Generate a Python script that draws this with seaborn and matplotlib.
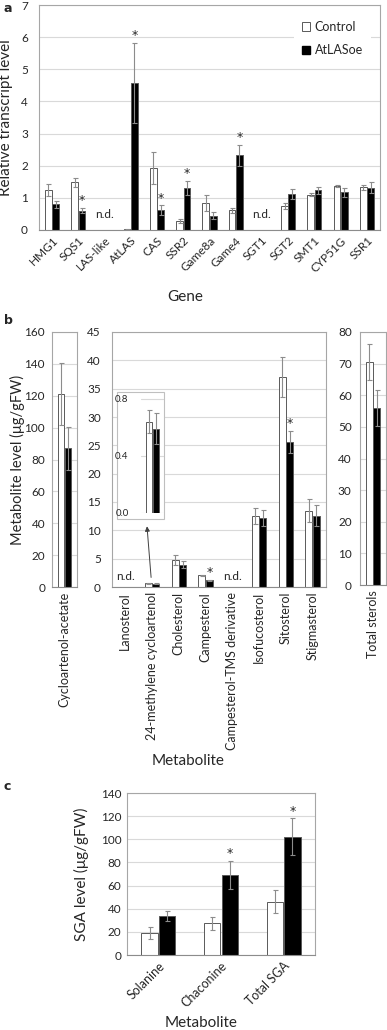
import numpy as np
import pandas as pd
import matplotlib
matplotlib.use("Agg")
import matplotlib.pyplot as plt
from matplotlib.patches import Patch, Rectangle
import seaborn as sns

sns.set_style("white")
plt.rcParams["font.family"] = ["Lato", "DejaVu Sans"]

TXT = "#262626"
GRID = "#d9d9d9"
SPINE = "#a6a6a6"
ERR = "#8c8c8c"

groups = ["Control", "AtLASoe"]

# panel a - transcript levels
genes = ["HMG1", "SQS1", "LAS-like", "AtLAS", "CAS", "SSR2", "Game8a",
         "Game4", "SGT1", "SGT2", "SMT1", "CYP51G", "SSR1"]
gene_ctrl = [1.25, 1.48, np.nan, 0.02, 1.93, 0.27, 0.85, 0.62, np.nan, 0.75, 1.10, 1.37, 1.33]
gene_ctrl_err = [0.18, 0.14, np.nan, 0.01, 0.49, 0.06, 0.25, 0.08, np.nan, 0.10, 0.05, 0.04, 0.07]
gene_oe = [0.80, 0.60, np.nan, 4.57, 0.62, 1.30, 0.45, 2.33, np.nan, 1.13, 1.23, 1.17, 1.32]
gene_oe_err = [0.10, 0.08, np.nan, 1.25, 0.15, 0.22, 0.10, 0.33, np.nan, 0.15, 0.11, 0.15, 0.18]
gene_sig = ["SQS1", "AtLAS", "CAS", "SSR2", "Game4"]
gene_nd = ["LAS-like", "SGT1"]

# panel b - sterols
acet = ["Cycloartenol-acetate"]
acet_ctrl, acet_ctrl_err = [121], [19.5]
acet_oe, acet_oe_err = [87], [13.5]

sterols = ["Lanosterol", "24-methylene cycloartenol", "Cholesterol", "Campesterol",
           "Campesterol-TMS derivative", "Isofucosterol", "Sitosterol", "Stigmasterol"]
sterol_ctrl = [np.nan, 0.64, 4.8, 2.05, np.nan, 12.5, 37.1, 13.5]
sterol_ctrl_err = [np.nan, 0.08, 0.85, 0.1, np.nan, 1.45, 3.5, 2.0]
sterol_oe = [np.nan, 0.59, 3.95, 1.2, np.nan, 12.2, 25.6, 12.6]
sterol_oe_err = [np.nan, 0.11, 0.65, 0.1, np.nan, 1.4, 1.9, 1.9]
sterol_sig = ["Campesterol", "Sitosterol"]
sterol_nd = ["Lanosterol", "Campesterol-TMS derivative"]

total = ["Total sterols"]
total_ctrl, total_ctrl_err = [70.5], [5.6]
total_oe, total_oe_err = [56], [5.8]

# panel c - SGA
sga = ["Solanine", "Chaconine", "Total SGA"]
sga_ctrl = [19, 27.5, 46]
sga_ctrl_err = [5.2, 5.5, 10]
sga_oe = [33.5, 69, 102]
sga_oe_err = [4.5, 12.3, 16]
sga_sig = ["Chaconine", "Total SGA"]


def long_df(cats, c, ce, o, oe):
    rows = [(k, "Control", v, e) for k, v, e in zip(cats, c, ce)]
    rows += [(k, "AtLASoe", v, e) for k, v, e in zip(cats, o, oe)]
    df = pd.DataFrame(rows, columns=["cat", "group", "value", "err"])
    return df.dropna(subset=["value"])


def bars(ax, cats, c, ce, o, oe, sig=(), show_err=True):
    df = long_df(cats, c, ce, o, oe)
    sns.barplot(data=df, x="cat", y="value", hue="group", order=cats, hue_order=groups,
                palette={"Control": "white", "AtLASoe": "black"}, edgecolor="#595959",
                linewidth=0.7, width=0.56, gap=0.08, errorbar=None, legend=False, ax=ax)
    for cont, g in zip(ax.containers, groups):
        sub = df[df.group == g].set_index("cat")
        for bar in cont:
            cx = bar.get_x() + bar.get_width() / 2
            cat = cats[int(round(cx))]
            h, e = sub.loc[cat, "value"], sub.loc[cat, "err"]
            if show_err:
                ax.errorbar(cx, h, yerr=e, fmt="none", ecolor=ERR, elinewidth=0.8,
                            capsize=1.8, capthick=0.8, zorder=3)
            if g == "AtLASoe" and cat in sig:
                ax.annotate("*", (cx, h + e), xytext=(0, 0.5), textcoords="offset points",
                            ha="center", va="bottom", fontsize=9, color=TXT,
                            family="DejaVu Sans")


def style(ax, n, ymax, step, fs=8, pad=3):
    ax.set_xlim(-0.5, n - 0.5)
    ax.set_ylim(0, ymax)
    ax.set_yticks(np.arange(0, ymax + step / 2, step))
    ax.yaxis.grid(True, color=GRID, lw=0.8)
    ax.set_axisbelow(True)
    for s in ax.spines.values():
        s.set_color(SPINE)
        s.set_linewidth(0.8)
    ax.spines["bottom"].set_color("#8c8c8c")
    ax.tick_params(axis="y", length=0, labelsize=fs, pad=pad, labelcolor=TXT)
    ax.tick_params(axis="x", which="major", length=0, labelsize=fs, labelcolor=TXT)
    ax.set_xticks(np.arange(-0.5, n, 1), minor=True)
    ax.tick_params(axis="x", which="minor", length=4, width=0.8, color="#8c8c8c", direction="out")
    ax.set_xlabel("")
    ax.set_ylabel("")


W, H = 387, 1030
fig = plt.figure(figsize=(W / 100, H / 100), dpi=100)


def axes_px(x0, y0, x1, y1):
    return fig.add_axes([x0 / W, 1 - y1 / H, (x1 - x0) / W, (y1 - y0) / H])


# ---- panel a
ax_a = axes_px(39, 5, 380, 230)
bars(ax_a, genes, gene_ctrl, gene_ctrl_err, gene_oe, gene_oe_err, gene_sig)
style(ax_a, len(genes), 7, 1, fs=8.5, pad=7)
ax_a.tick_params(axis="y", length=3, width=0.8, color="#8c8c8c", direction="out", pad=5)
ax_a.set_xticks(range(len(genes)))
ax_a.set_xticklabels(genes, rotation=45, ha="right", rotation_mode="anchor", fontsize=8.5)
for g in gene_nd:
    ax_a.text(genes.index(g), 0.3, "n.d.", ha="center", va="bottom", fontsize=8.5, color=TXT)
ax_a.set_ylabel("Relative transcript level", fontsize=11, color=TXT)
ax_a.yaxis.set_label_coords(-0.075, 0.5)
ax_a.set_xlabel("Gene", fontsize=11, color=TXT)
ax_a.xaxis.set_label_coords(0.428, -0.265)
leg = ax_a.legend(handles=[Patch(facecolor="white", edgecolor="#595959", lw=0.7),
                           Patch(facecolor="black", edgecolor="black")],
                  labels=groups, loc="upper left", bbox_to_anchor=(0.73, 0.99),
                  frameon=True, fancybox=False, framealpha=1, edgecolor="none",
                  handlelength=0.7, handleheight=0.7, handletextpad=0.35,
                  labelspacing=0.9, fontsize=9, borderpad=0.6)
for t in leg.get_texts():
    t.set_color(TXT)
fig.text(3 / W, 1 - 12 / H, "a", fontsize=9, fontweight="bold", family="DejaVu Sans")

# ---- panel b
ax_b1 = axes_px(52, 332, 77, 587)
bars(ax_b1, acet, acet_ctrl, acet_ctrl_err, acet_oe, acet_oe_err)
style(ax_b1, 1, 160, 20, fs=8.5, pad=5)
ax_b1.set_xticks([0])
ax_b1.set_xticklabels(acet, rotation=90, fontsize=9)
ax_b1.tick_params(axis="x", which="minor", length=0)
ax_b1.set_ylabel("Metabolite level (\u03bcg/gFW)", fontsize=10.5, color=TXT)
ax_b1.yaxis.set_label_coords(-1.08, 0.5)

ax_b2 = axes_px(112, 332, 326, 587)
bars(ax_b2, sterols, sterol_ctrl, sterol_ctrl_err, sterol_oe, sterol_oe_err, sterol_sig)
style(ax_b2, len(sterols), 45, 5, fs=8.5, pad=8)
ax_b2.set_xticks(range(len(sterols)))
ax_b2.set_xticklabels(sterols, rotation=90, fontsize=9)
for s in sterol_nd:
    ax_b2.text(sterols.index(s), 0.9, "n.d.", ha="center", va="bottom", fontsize=8.5, color=TXT)
ax_b2.set_xlabel("Metabolite", fontsize=11, color=TXT)
ax_b2.xaxis.set_label_coords(0.355, -0.655)
ax_b2.annotate("", xy=(0.8, 11.2), xytext=(0.97, 1.2),
               arrowprops=dict(arrowstyle="-|>", color="#404040", lw=0.7, mutation_scale=7))

ax_b3 = axes_px(360, 332, 386, 585)
bars(ax_b3, total, total_ctrl, total_ctrl_err, total_oe, total_oe_err)
style(ax_b3, 1, 80, 10, fs=8.5, pad=6)
ax_b3.set_xticks([0])
ax_b3.set_xticklabels(total, rotation=90, fontsize=9)
ax_b3.tick_params(axis="x", which="minor", length=0)

# inset for 24-methylene cycloartenol
frame = Rectangle((117 / W, 1 - 519 / H), 47 / W, 127 / H, transform=fig.transFigure,
                  facecolor="white", edgecolor="#bfbfbf", lw=0.8, zorder=1.5)
fig.patches.append(frame)
ax_in = axes_px(141, 391.6, 164, 512.7)
ax_in.set_zorder(2)
ax_in.patch.set_alpha(0)
k = 1
bars(ax_in, sterols[k:k + 1], sterol_ctrl[k:k + 1], sterol_ctrl_err[k:k + 1],
     sterol_oe[k:k + 1], sterol_oe_err[k:k + 1])
style(ax_in, 1, 0.85, 0.4, fs=7, pad=9)
ax_in.set_yticks([0, 0.4, 0.8])
ax_in.set_yticklabels(["0.0", "0.4", "0.8"])
ax_in.set_xticks([])
ax_in.set_xticks([], minor=True)
for s in ax_in.spines.values():
    s.set_visible(False)
fig.text(4 / W, 1 - 324 / H, "b", fontsize=9, fontweight="bold", family="DejaVu Sans")

# ---- panel c
ax_c = axes_px(127, 793, 315, 955)
bars(ax_c, sga, sga_ctrl, sga_ctrl_err, sga_oe, sga_oe_err, sga_sig)
style(ax_c, len(sga), 140, 20, fs=8.5, pad=4)
ax_c.set_xticks(range(len(sga)))
ax_c.set_xticklabels(sga, rotation=45, ha="right", rotation_mode="anchor", fontsize=9)
ax_c.set_ylabel("SGA level (\u03bcg/gFW)", fontsize=11, color=TXT)
ax_c.yaxis.set_label_coords(-0.2, 0.5)
ax_c.set_xlabel("Metabolite", fontsize=11, color=TXT)
ax_c.xaxis.set_label_coords(0.394, -0.375)
fig.text(4 / W, 1 - 790 / H, "c", fontsize=9, fontweight="bold", family="DejaVu Sans")

fig.savefig("out.png", dpi=100)
